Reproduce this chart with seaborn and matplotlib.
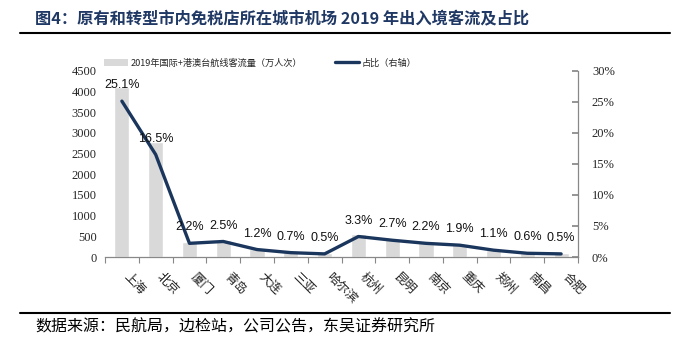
import numpy as np
import pandas as pd
import matplotlib
matplotlib.use("Agg")
import matplotlib.pyplot as plt
import seaborn as sns
from matplotlib.patches import Patch
from matplotlib.lines import Line2D

cities = ["上海", "北京", "厦门", "青岛", "大连", "三亚", "哈尔滨",
          "杭州", "昆明", "南京", "重庆", "郑州", "南昌", "合肥"]
passengers = [4100, 2780, 370, 410, 200, 115, 85, 560, 445, 360, 310, 180, 100, 85]
share_pct = [25.1, 16.5, 2.2, 2.5, 1.2, 0.7, 0.5, 3.3, 2.7, 2.2, 1.9, 1.1, 0.6, 0.5]
left_ticks = [0, 500, 1000, 1500, 2000, 2500, 3000, 3500, 4000, 4500]
right_ticks = [0, 5, 10, 15, 20, 25, 30]
bar_label = "2019年国际+港澳台航线客流量（万人次）"
line_label = "占比（右轴）"
title = "图4：原有和转型市内免税店所在城市机场 2019 年出入境客流及占比"
source = "数据来源：民航局，边检站，公司公告，东吴证券研究所"

sns.set_theme(style="white")
plt.rcParams['font.family'] = ['Noto Sans CJK SC', 'DejaVu Sans']

df = pd.DataFrame({"city": cities, "passengers": passengers, "share": share_pct})

fig = plt.figure(figsize=(6.82, 3.39), dpi=100)
ax = fig.add_axes([105/682, 1-257/339, (578-105)/682, (257-70.7)/339])

bar_color = "#d9d9d9"
line_color = "#1b365d"

sns.barplot(data=df, x="city", y="passengers", color=bar_color, width=0.45,
            ax=ax, saturation=1)
ax.set_ylim(0, 4500)
ax.set_yticks(left_ticks)
ax.set_yticklabels([str(t) for t in left_ticks], family="Liberation Serif", fontsize=9)
ax.set_xlabel("")
ax.set_ylabel("")
ax.set_xlim(-0.5, len(cities) - 0.5)

# x tick marks at category boundaries
ax.set_xticks(np.arange(len(cities)))
ax.set_xticklabels([])
ax.tick_params(axis="x", length=0)
ax.set_xticks(np.arange(-0.5, len(cities), 1), minor=True)
ax.tick_params(axis="x", which="minor", length=4, direction="out", color="#888888", width=0.8, bottom=True)
ax.tick_params(axis="y", length=0, pad=6)
for i, c in enumerate(cities):
    ax.annotate(c, xy=(i, 0), xycoords=("data", "axes fraction"),
                xytext=(2.5, -12.5), textcoords="offset points",
                rotation=-45, rotation_mode="anchor", ha="left", va="center",
                fontsize=9, color="#222222")

for s in ["left", "top", "right"]:
    ax.spines[s].set_visible(False)
ax.spines["bottom"].set_color("#888888")
ax.spines["bottom"].set_linewidth(0.9)

ax2 = ax.twinx()
sns.lineplot(x=np.arange(len(cities)), y=share_pct, ax=ax2, color=line_color,
             linewidth=2.4, sort=False)
ax2.set_ylim(0, 30)
ax2.set_yticks(right_ticks)
ax2.set_yticklabels([f"{t}%" for t in right_ticks], family="Liberation Serif", fontsize=9)
ax2.tick_params(axis="y", direction="in", length=4, color="#888888", pad=10, right=True)
for s in ["left", "top", "bottom"]:
    ax2.spines[s].set_visible(False)
ax2.spines["right"].set_color("#888888")
ax2.spines["right"].set_linewidth(0.9)
ax2.set_xlim(-0.5, len(cities) - 0.5)

for i, v in enumerate(share_pct):
    ax2.annotate(f"{v:.1f}%", xy=(i, v), xytext=(0, 11.5), textcoords="offset points",
                 ha="center", va="center", fontsize=9, family="Liberation Sans",
                 color="#111111")

handles = [Patch(facecolor=bar_color, edgecolor="none"),
           Line2D([0], [0], color=line_color, linewidth=2.4)]
fig.legend(handles, [bar_label, line_label], loc="center", bbox_to_anchor=(260/682, 1-63/339),
           ncol=2, frameon=False, fontsize=6.6, handlelength=2.6, handleheight=0.9,
           columnspacing=3.6, handletextpad=0.3)

fig.text(35/682, 1-18/339, title, fontsize=11.7, fontweight="bold", color="#1f3864",
         ha="left", va="center")
fig.add_artist(Line2D([20/682, 670/682], [1-33/339, 1-33/339], color="black", linewidth=1.5))
fig.add_artist(Line2D([20/682, 670/682], [1-313/339, 1-313/339], color="black", linewidth=1.5))
fig.text(35/682, 1-327/339, source, fontsize=11.5, color="black", ha="left", va="center")

fig.savefig("out.png", dpi=100)
